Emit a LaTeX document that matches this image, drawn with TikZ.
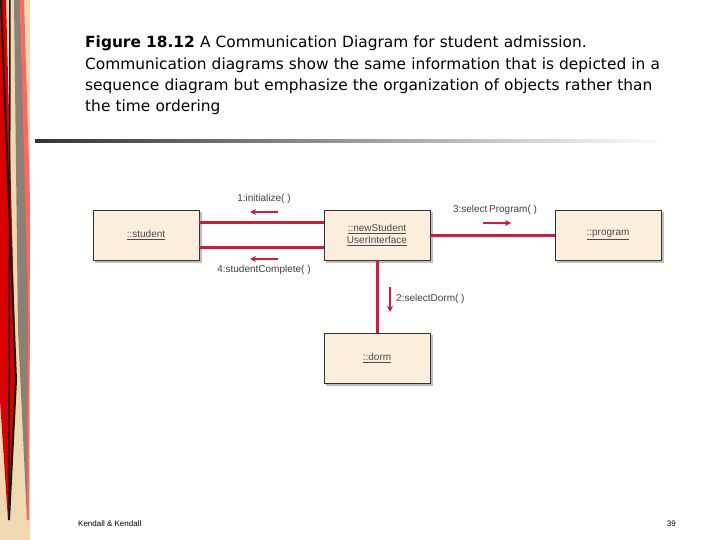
\documentclass[tikz,border=0pt]{standalone}
\usepackage{fontspec}
\setmainfont{Liberation Sans}
\newfontfamily\titlefont{DejaVu Sans}
\usetikzlibrary{arrows.meta}
\definecolor{cream}{HTML}{FBEEDD}
\definecolor{lred}{HTML}{C8203A}
\definecolor{beige}{HTML}{F0D8B0}
\begin{document}
\begin{tikzpicture}[x=1pt,y=-1pt,
  obj/.style={draw=black!80,line width=0.8pt,fill=cream,minimum width=106pt,minimum height=50pt,inner sep=0pt,font=\fontsize{10}{12}\selectfont\color{black!70},align=center},
  link/.style={draw=lred,line width=3pt},
  msg/.style={draw=lred,line width=1.5pt,-{Stealth[length=6pt,width=6pt]}},
  lbl/.style={font=\fontsize{10}{11}\selectfont\color{black!75},inner sep=1pt}]
\useasboundingbox (0,0) rectangle (720,540);
\fill[white] (0,0) rectangle (720,540);
% left decoration
\fill[beige] (0,0) rectangle (30,540);
\fill[red!85!black] (0,0) -- (6,0) -- (16,380) -- (8,520) -- (0,400) -- cycle;
\fill[gray!80!brown] (14,0) -- (20,0) -- (30,330) -- (27,520) -- (18,330) -- cycle;
\fill[red!60] (20,0) -- (24,0) -- (30,200) -- (29,520) -- (27,520) -- (28,300) -- cycle;
\draw[black!90,line width=2pt] (1,0) -- (16,380) -- (9,520);
\draw[black!90,line width=1.5pt] (10,0) -- (9,520);
% title
\node[anchor=north west,align=left,inner sep=0pt,font=\titlefont\fontsize{15.4}{21.3}\selectfont,text width=650pt] (title) at (85,36)
 {\textbf{Figure 18.12} A Communication Diagram for student admission.\\ Communication diagrams show the same information that is depicted in a\\ sequence diagram but emphasize the organization of objects rather than\\ the time ordering};
\shade[left color=black!80,right color=white] (35,139.5) rectangle (665,143);
% objects
\foreach \n/\x/\y/\t in {s/146/235/\underline{::student}, ui/377/235/{\underline{::newStudent}\\\underline{UserInterface}}, p/608/235/\underline{::program}, d/377/358/\underline{::dorm}}{
  \fill[black!25] (\x-51,\y-23) rectangle (\x+56,\y+28);
  \node[obj] (\n) at (\x,\y) {\t};
}
\draw[link] ([yshift=-12pt]s.east) -- ([yshift=-12pt]ui.west);
\draw[link] ([yshift=12pt]s.east) -- ([yshift=12pt]ui.west);
\draw[link] (ui.east) -- (p.west);
\draw[link] (ui.south) -- (d.north);
% messages
\coordinate (a1) at (278,212); \coordinate (b1) at (250,212);
\draw[msg] (a1) -- (b1);
\node[lbl] (l1) at (264,199) {1:initialize( )};
\coordinate (a4) at (278,259); \coordinate (b4) at (250,259);
\draw[msg] (a4) -- (b4);
\node[lbl] (l4) at (264,270) {4:studentComplete( )};
\coordinate (a3) at (483,223); \coordinate (b3) at (511,223);
\draw[msg] (a3) -- (b3);
\node[lbl] (l3) at (495,210) {3:select\,Program( )};
\coordinate (a2) at (390,287); \coordinate (b2) at (390,312);
\draw[msg] (a2) -- (b2);
\node[lbl,anchor=west] (l2) at (395,299) {2:selectDorm( )};
% footer
\node[anchor=west,inner sep=0pt,font=\fontsize{8}{9}\selectfont] (f1) at (78,524) {Kendall \& Kendall};
\node[anchor=east,inner sep=0pt,font=\fontsize{8}{9}\selectfont] (f2) at (676,524) {39};
\end{tikzpicture}
\end{document}
